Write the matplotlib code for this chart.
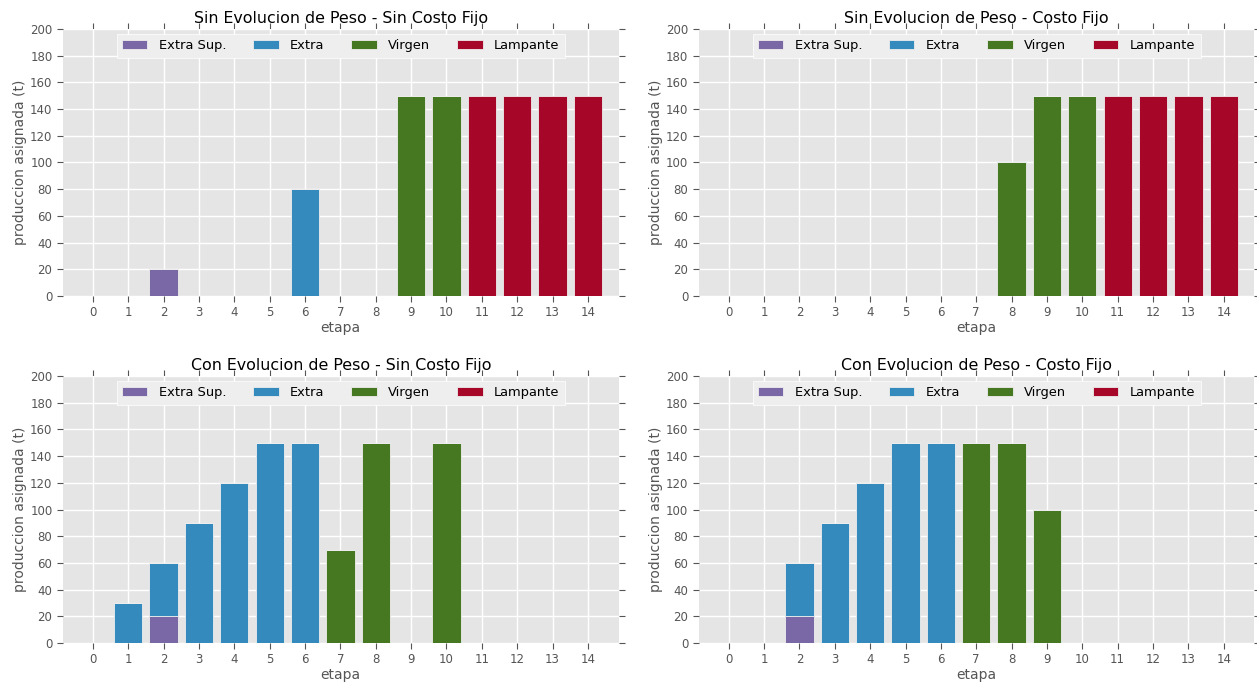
import numpy as np
import matplotlib
matplotlib.use('Agg')
import matplotlib.pyplot as plt

plt.style.use('ggplot')

etapas = np.arange(15)
tipos = ['Extra Sup.', 'Extra', 'Virgen', 'Lampante']
colores = ['#7A68A6', '#348ABD', '#467821', '#A60628']

titulos = ['Sin Evolucion de Peso - Sin Costo Fijo',
           'Sin Evolucion de Peso - Costo Fijo',
           'Con Evolucion de Peso - Sin Costo Fijo',
           'Con Evolucion de Peso - Costo Fijo']

# produccion asignada (t) por etapa 0..14
# escenario 1
s1_extra_sup = [0, 0, 20, 0, 0, 0, 0, 0, 0, 0, 0, 0, 0, 0, 0]
s1_extra     = [0, 0, 0, 0, 0, 0, 80, 0, 0, 0, 0, 0, 0, 0, 0]
s1_virgen    = [0, 0, 0, 0, 0, 0, 0, 0, 0, 150, 150, 0, 0, 0, 0]
s1_lampante  = [0, 0, 0, 0, 0, 0, 0, 0, 0, 0, 0, 150, 150, 150, 150]
# escenario 2
s2_extra_sup = [0, 0, 0, 0, 0, 0, 0, 0, 0, 0, 0, 0, 0, 0, 0]
s2_extra     = [0, 0, 0, 0, 0, 0, 0, 0, 0, 0, 0, 0, 0, 0, 0]
s2_virgen    = [0, 0, 0, 0, 0, 0, 0, 0, 100, 150, 150, 0, 0, 0, 0]
s2_lampante  = [0, 0, 0, 0, 0, 0, 0, 0, 0, 0, 0, 150, 150, 150, 150]
# escenario 3
s3_extra_sup = [0, 0, 20, 0, 0, 0, 0, 0, 0, 0, 0, 0, 0, 0, 0]
s3_extra     = [0, 30, 40, 90, 120, 150, 150, 0, 0, 0, 0, 0, 0, 0, 0]
s3_virgen    = [0, 0, 0, 0, 0, 0, 0, 70, 150, 0, 150, 0, 0, 0, 0]
s3_lampante  = [0, 0, 0, 0, 0, 0, 0, 0, 0, 0, 0, 0, 0, 0, 0]
# escenario 4
s4_extra_sup = [0, 0, 20, 0, 0, 0, 0, 0, 0, 0, 0, 0, 0, 0, 0]
s4_extra     = [0, 0, 40, 90, 120, 150, 150, 0, 0, 0, 0, 0, 0, 0, 0]
s4_virgen    = [0, 0, 0, 0, 0, 0, 0, 150, 150, 100, 0, 0, 0, 0, 0]
s4_lampante  = [0, 0, 0, 0, 0, 0, 0, 0, 0, 0, 0, 0, 0, 0, 0]

escenarios = [
    [s1_extra_sup, s1_extra, s1_virgen, s1_lampante],
    [s2_extra_sup, s2_extra, s2_virgen, s2_lampante],
    [s3_extra_sup, s3_extra, s3_virgen, s3_lampante],
    [s4_extra_sup, s4_extra, s4_virgen, s4_lampante],
]

fig, axes = plt.subplots(2, 2, figsize=(12.57, 6.83), dpi=100)
plt.subplots_adjust(left=0.050, right=0.998, top=0.9575, bottom=0.0586,
                    wspace=0.144, hspace=0.30)

for ax, titulo, series in zip(axes.flat, titulos, escenarios):
    base = np.zeros(len(etapas))
    for nombre, color, vals in zip(tipos, colores, series):
        vals = np.array(vals, dtype=float)
        ax.bar(etapas, vals, width=0.8, bottom=base, color=color,
               edgecolor='#EEEEEE', linewidth=0.6, label=nombre)
        base += vals
    ax.set_xlim(-0.85, 14.87)
    ax.set_ylim(0, 200)
    ax.set_xticks(etapas)
    ax.set_yticks(np.arange(0, 201, 20))
    ax.set_title(titulo, fontsize=11.4, color='black', pad=4)
    ax.set_xlabel('etapa', fontsize=10, color='#555555', labelpad=1)
    ax.set_ylabel('produccion asignada (t)', fontsize=10, color='#555555',
                  labelpad=2)
    ax.tick_params(axis='both', direction='out', labelsize=8.5,
                   colors='#555555', length=4, width=0.8,
                   top=True, right=True, labeltop=False, labelright=False)
    ax.set_axisbelow(True)
    ax.grid(True, color='white', linewidth=1.0)
    ax.set_facecolor('#E5E5E5')
    for s in ax.spines.values():
        s.set_visible(False)
    leg = ax.legend(loc='upper center', ncol=4, fontsize=9.4,
                    handlelength=1.95, handleheight=0.7, handletextpad=0.88,
                    columnspacing=2.05, borderaxespad=0.4, fancybox=False)
    leg.get_frame().set_facecolor('#EEEEEE')
    leg.get_frame().set_edgecolor('white')
    leg.get_frame().set_alpha(1.0)

plt.savefig('out.png', dpi=100)
